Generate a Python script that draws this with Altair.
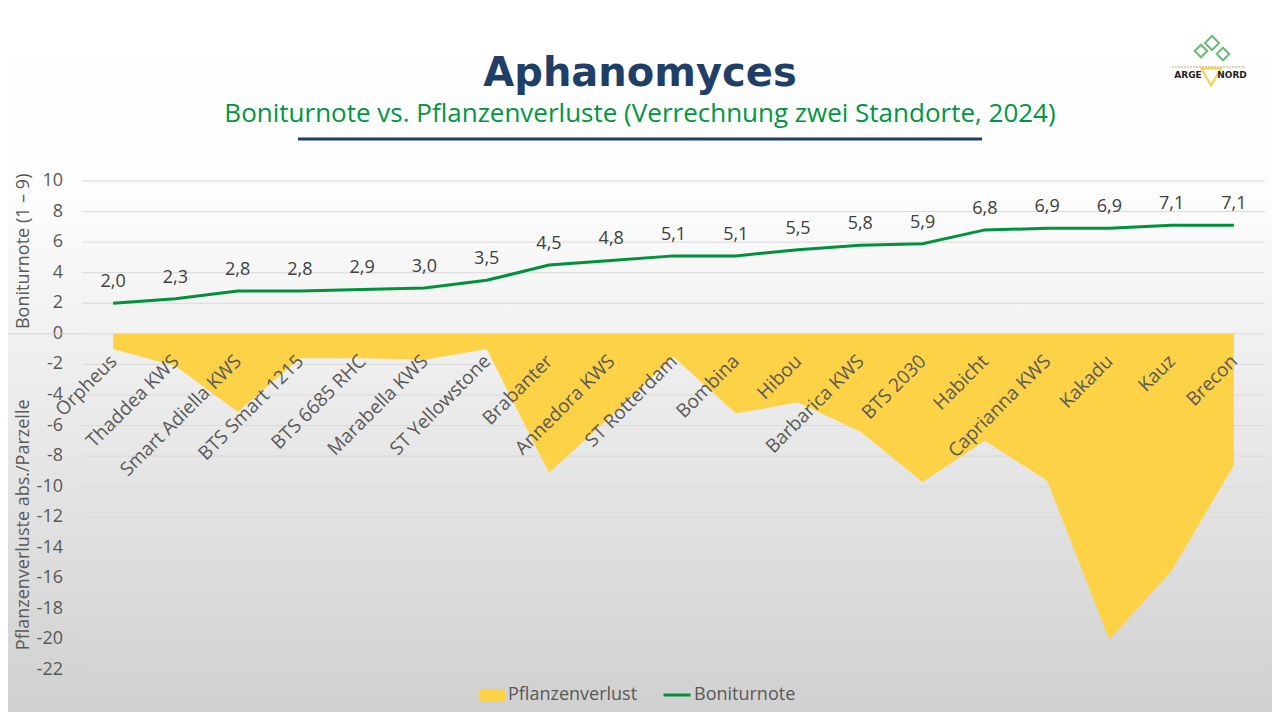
import altair as alt
import pandas as pd

categories = ["Orpheus", "Thaddea KWS", "Smart Adiella KWS", "BTS Smart 1215", "BTS 6685 RHC",
              "Marabella KWS", "ST Yellowstone", "Brabanter", "Annedora KWS", "ST Rotterdam",
              "Bombina", "Hibou", "Barbarica KWS", "BTS 2030", "Habicht", "Caprianna KWS",
              "Kakadu", "Kauz", "Brecon"]
boniturnote = [2.0, 2.3, 2.8, 2.8, 2.9, 3.0, 3.5, 4.5, 4.8, 5.1, 5.1, 5.5, 5.8, 5.9, 6.8, 6.9, 6.9, 7.1, 7.1]
pflanzenverlust = [-1.0, -2.1, -5.1, -1.6, -1.6, -1.7, -1.0, -9.1, -5.4, -1.5, -5.2, -4.5, -6.4, -9.7,
                   -7.0, -9.6, -20.0, -15.5, -8.6]
y_ticks = list(range(-22, 11, 2))

title_text = "Aphanomyces"
subtitle_text = "Boniturnote vs. Pflanzenverluste (Verrechnung zwei Standorte, 2024)"

W, H = 1183, 489
PAD_L, PAD_T = 74, 173
TOTAL_W, TOTAL_H = 1264, 704
YMIN, YMAX = -22, 10
zero_px = H * YMAX / (YMAX - YMIN)

YELLOW = "#FDD247"
GREEN = "#00923A"
NAVY = "#1F3F66"
GRAY = "#595959"

df = pd.DataFrame({"Sorte": categories, "Boniturnote": boniturnote, "Pflanzenverlust": pflanzenverlust})
df["s1"] = "Pflanzenverlust"
df["s2"] = "Boniturnote"
one = pd.DataFrame({"k": [0]})
grid_df = pd.DataFrame({"t": y_ticks})

yscale = alt.Scale(domain=[YMIN, YMAX], nice=False, zero=False)
xscale = alt.Scale(type="point", padding=0.5, domain=categories)

# y axis itself is hidden; tick labels are drawn as text marks below
yaxis = alt.Axis(values=y_ticks, grid=False, ticks=False, domain=False, title=None, labels=False)

xaxis = alt.Axis(orient="bottom", offset=-(H - zero_px), labelAngle=-45, labelAlign="right",
                 labelBaseline="middle", labelPadding=24, labelOffset=0, ticks=False, tickSize=0,
                 domain=False, grid=False, title=None, labelFont="Open Sans", labelFontSize=19,
                 labelColor=GRAY, zindex=2, labelOverlap=False, labelLimit=0)

bg = alt.Chart(one).mark_rect(
    clip=False,
    color=alt.Gradient(gradient="linear", x1=0, y1=0, x2=0, y2=1,
                       stops=[alt.GradientStop(offset=0, color="#ffffff"),
                              alt.GradientStop(offset=0.28, color="#fcfcfc"),
                              alt.GradientStop(offset=1, color="#d0d0d0")])
).encode(x=alt.value(-PAD_L), x2=alt.value(TOTAL_W - PAD_L),
         y=alt.value(-PAD_T), y2=alt.value(TOTAL_H - PAD_T))

grid = alt.Chart(grid_df).mark_rule(color="#d9d9d9", strokeWidth=1).encode(
    y=alt.Y("t:Q", scale=yscale, axis=yaxis),
    x=alt.value(0), x2=alt.value(W))

ylabels = alt.Chart(grid_df).transform_calculate(
    lbl="datum.t < 0 ? '-' + abs(datum.t) : '' + datum.t"
).mark_text(align="right", baseline="middle", font="Open Sans", fontSize=18, color=GRAY).encode(
    y=alt.Y("t:Q", scale=yscale, axis=yaxis),
    x=alt.value(-19), text="lbl:N")

zero_ext = alt.Chart(one).mark_rule(color="#d0d0d0", strokeWidth=1).encode(
    y=alt.datum(0), x=alt.value(-PAD_L), x2=alt.value(0))

area = alt.Chart(df).mark_area(opacity=1).encode(
    x=alt.X("Sorte:N", sort=categories, scale=xscale, axis=xaxis),
    y=alt.Y("Pflanzenverlust:Q", scale=yscale, axis=yaxis),
    fill=alt.Fill("s1:N", scale=alt.Scale(range=[YELLOW]),
                  legend=alt.Legend(orient="none", legendX=398, legendY=502, title=None, padding=0,
                                    symbolType="M-1.1,-0.5H1.1V0.5H-1.1Z", symbolSize=576,
                                    symbolStrokeWidth=0, labelFont="Open Sans", labelFontSize=18,
                                    labelColor=GRAY, labelOffset=4)))

line = alt.Chart(df).mark_line(strokeWidth=3).encode(
    x=alt.X("Sorte:N", sort=categories, scale=xscale, axis=xaxis),
    y=alt.Y("Boniturnote:Q", scale=yscale, axis=yaxis),
    stroke=alt.Stroke("s2:N", scale=alt.Scale(range=[GREEN]),
                      legend=alt.Legend(orient="none", legendX=580, legendY=499, title=None, padding=0,
                                        symbolType="stroke", symbolSize=729, symbolStrokeWidth=3,
                                        labelFont="Open Sans", labelFontSize=18, labelColor=GRAY,
                                        labelOffset=2)))

labels = alt.Chart(df).transform_calculate(
    lbl="replace(format(datum.Boniturnote, '.1f'), '.', ',')"
).mark_text(dy=-21, font="Open Sans", fontSize=18, color="#404040").encode(
    x=alt.X("Sorte:N", sort=categories, scale=xscale, axis=xaxis),
    y=alt.Y("Boniturnote:Q", scale=yscale, axis=yaxis),
    text="lbl:N")

ytitle1 = alt.Chart(one).mark_text(angle=270, font="Open Sans", fontSize=18, color=GRAY).encode(
    x=alt.value(-58), y=alt.datum(5.4), text=alt.value("Boniturnote (1 – 9)"))
ytitle2 = alt.Chart(one).mark_text(angle=270, font="Open Sans", fontSize=18, color=GRAY).encode(
    x=alt.value(-58), y=alt.datum(-12.5), text=alt.value("Pflanzenverluste abs./Parzelle"))

title = alt.Chart(one).mark_text(font="DejaVu Sans", fontSize=40, fontWeight="bold", color=NAVY,
                                 baseline="alphabetic", align="center").encode(
    x=alt.value(558), y=alt.value(-95), text=alt.value(title_text))
subtitle = alt.Chart(one).mark_text(font="Open Sans", fontSize=26, color="#009640",
                                    baseline="alphabetic", align="center").encode(
    x=alt.value(558), y=alt.value(-59), text=alt.value(subtitle_text))

underline = alt.Chart(one).mark_rule(color=NAVY, strokeWidth=3).encode(
    x=alt.value(216), x2=alt.value(900), y=alt.value(-42))

# small logo (ARGE NORD)
logo_line = alt.Chart(one).mark_rule(color="#C9A36B", strokeWidth=1, strokeDash=[2, 1]).encode(
    x=alt.value(1090), x2=alt.value(1163), y=alt.value(-114))
leaf1 = alt.Chart(one).mark_point(shape="diamond", size=160, filled=False, color="#2E9E3A", strokeWidth=2).encode(
    x=alt.value(1119), y=alt.value(-130))
leaf2 = alt.Chart(one).mark_point(shape="diamond", size=200, filled=False, color="#2E9E3A", strokeWidth=2).encode(
    x=alt.value(1130), y=alt.value(-138))
leaf3 = alt.Chart(one).mark_point(shape="diamond", size=160, filled=False, color="#2E9E3A", strokeWidth=2).encode(
    x=alt.value(1141), y=alt.value(-127))
beet = alt.Chart(one).mark_point(shape="triangle-down", size=380, filled=False, color="#F2C200", strokeWidth=2).encode(
    x=alt.value(1129), y=alt.value(-104))
arge = alt.Chart(one).mark_text(font="DejaVu Sans", fontSize=9, fontWeight="bold", color="#222222").encode(
    x=alt.value(1106), y=alt.value(-106), text=alt.value("ARGE"))
nord = alt.Chart(one).mark_text(font="DejaVu Sans", fontSize=9, fontWeight="bold", color="#222222").encode(
    x=alt.value(1150), y=alt.value(-106), text=alt.value("NORD"))

chart = alt.layer(
    bg, grid, ylabels, zero_ext, area, line, labels, ytitle1, ytitle2, title, subtitle, underline,
    logo_line, leaf1, leaf2, leaf3, beet, arge, nord
).properties(
    width=W, height=H,
    padding={"left": PAD_L, "top": PAD_T, "right": TOTAL_W - PAD_L - W, "bottom": TOTAL_H - PAD_T - H},
    autosize=alt.AutoSizeParams(type="none"),
).configure_view(stroke=None).configure(background="white")

chart.save("out.html", embed_options={"renderer": "svg", "actions": False})
